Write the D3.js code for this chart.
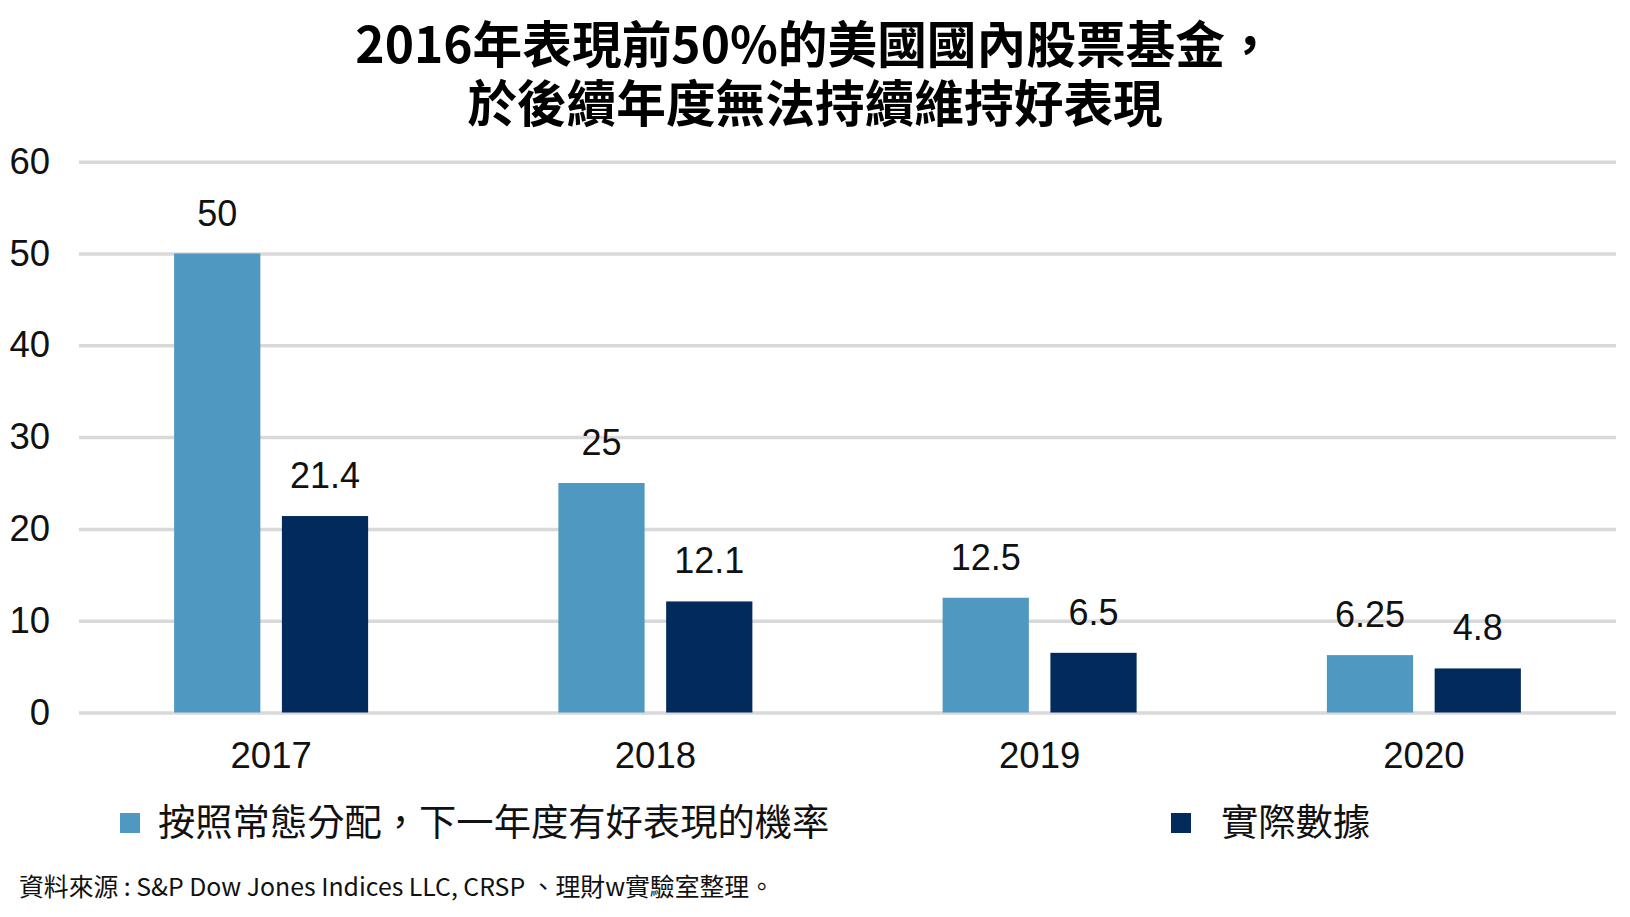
<!DOCTYPE html>
<html>
<head>
<meta charset="utf-8">
<script src="https://cdn.jsdelivr.net/npm/d3@7"></script>
<style>
  html, body { margin: 0; padding: 0; background: #fff; }
  svg { display: block; }
</style>
</head>
<body>
<svg id="chart" width="1630" height="917"></svg>
<script>
// ---- data ----
const categories = ["2017", "2018", "2019", "2020"];
const seriesNames = ["按照常態分配，下一年度有好表現的機率", "實際數據"];
const expectedValues = [50, 25, 12.5, 6.25];
const actualValues = [21.4, 12.1, 6.5, 4.8];
const valueLabels = [["50", "25", "12.5", "6.25"], ["21.4", "12.1", "6.5", "4.8"]];
const yTicks = [0, 10, 20, 30, 40, 50, 60];
const titleLines = ["2016年表現前50%的美國國內股票基金，", "於後續年度無法持續維持好表現"];
const sourceText = "資料來源 : S&P Dow Jones Indices LLC, CRSP 、理財w實驗室整理。";

const colors = ["#4F98C1", "#022B5C"];
const numFont = "'Liberation Sans', Arial, sans-serif";
const cjkFont = "'Noto Sans CJK TC', 'Noto Sans CJK SC', sans-serif";

const svg = d3.select("#chart");
const plotL = 79, plotR = 1616, plotT = 161.7, plotB = 712.5;

const x = d3.scaleBand().domain(categories).range([plotL, plotR]).paddingInner(0).paddingOuter(0);
const x1 = d3.scaleBand().domain([0, 1]).range([-97, 97]).paddingInner(0.2).paddingOuter(0);
const y = d3.scaleLinear().domain([0, 60]).range([plotB, plotT]);

// title
const title = svg.append("text")
  .attr("text-anchor", "middle")
  .attr("font-family", cjkFont)
  .attr("font-weight", 700)
  .attr("font-size", 49.7)
  .attr("fill", "#000");
title.selectAll("tspan").data(titleLines).join("tspan")
  .attr("x", 815)
  .attr("y", (d, i) => 63 + i * 59)
  .text(d => d);

// y axis + gridlines
const yAxis = svg.append("g")
  .attr("transform", `translate(${plotL},0)`)
  .call(d3.axisLeft(y).tickValues(yTicks).tickSize(-(plotR - plotL)).tickPadding(29).tickFormat(d3.format("d")));
yAxis.select(".domain").remove();
yAxis.selectAll(".tick line").attr("stroke", "#D9D9D9").attr("stroke-width", 3.5);
yAxis.selectAll(".tick text")
  .attr("font-family", numFont).attr("font-size", 36.5).attr("fill", "#111");

// bars
const rows = categories.map((c, i) => ({cat: c, vals: [expectedValues[i], actualValues[i]], labels: [valueLabels[0][i], valueLabels[1][i]]}));
const groups = svg.append("g").selectAll("g").data(rows).join("g")
  .attr("transform", d => `translate(${x(d.cat) + x.bandwidth() / 2},0)`);

groups.selectAll("rect").data(d => d.vals.map((v, s) => ({v, s}))).join("rect")
  .attr("x", d => x1(d.s))
  .attr("width", x1.bandwidth())
  .attr("y", d => y(d.v))
  .attr("height", d => y(0) - y(d.v))
  .attr("fill", d => colors[d.s]);

groups.selectAll("text.val").data(d => d.vals.map((v, s) => ({v, s, t: d.labels[s]}))).join("text")
  .attr("class", "val")
  .attr("x", d => x1(d.s) + x1.bandwidth() / 2)
  .attr("y", d => y(d.v) - 28)
  .attr("text-anchor", "middle")
  .attr("font-family", numFont).attr("font-size", 36).attr("fill", "#111")
  .text(d => d.t);

// x axis labels
const xAxis = svg.append("g")
  .attr("transform", `translate(0,${plotB})`)
  .call(d3.axisBottom(x).tickSize(0).tickPadding(30));
xAxis.select(".domain").remove();
xAxis.selectAll(".tick text")
  .attr("font-family", numFont).attr("font-size", 36.5).attr("fill", "#111");

// legend
const legendX = [120, 1171];
const legendTextDx = [38, 50];
const legend = svg.append("g").selectAll("g").data(seriesNames).join("g")
  .attr("transform", (d, i) => `translate(${legendX[i]},813)`);
legend.append("rect").attr("width", 20).attr("height", 20).attr("fill", (d, i) => colors[i]);
legend.append("text")
  .attr("x", (d, i) => legendTextDx[i]).attr("y", 23)
  .attr("font-family", cjkFont).attr("font-size", 37.3).attr("fill", "#111")
  .text(d => d);

// source
svg.append("text")
  .attr("x", 19).attr("y", 896)
  .attr("font-family", cjkFont).attr("font-size", 24.5).attr("fill", "#111")
  .attr("textLength", 755).attr("lengthAdjust", "spacingAndGlyphs")
  .text(sourceText);
</script>
</body>
</html>
